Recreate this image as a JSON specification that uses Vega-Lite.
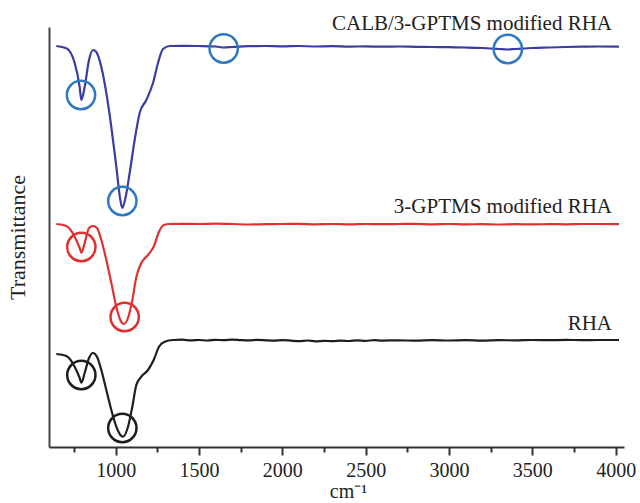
{
  "$schema": "https://vega.github.io/schema/vega-lite/v6.json",
  "width": 575,
  "height": 420,
  "autosize": {"type": "none"},
  "padding": {"left": 49, "top": 27, "right": 16, "bottom": 56},
  "background": "white",
  "config": {
    "view": {"stroke": null},
    "font": "Times New Roman, Liberation Serif, serif"
  },
  "datasets": {
    "curves": [
      {"s": "CALB", "wn": 644, "t": 401}, {"s": "CALB", "wn": 704, "t": 398.7}, {"s": "CALB", "wn": 754, "t": 384}, {"s": "CALB", "wn": 784, "t": 360}, {"s": "CALB", "wn": 794, "t": 347}, {"s": "CALB", "wn": 814, "t": 360}, {"s": "CALB", "wn": 840, "t": 387}, {"s": "CALB", "wn": 864, "t": 397}, {"s": "CALB", "wn": 884, "t": 395}, {"s": "CALB", "wn": 914, "t": 380}, {"s": "CALB", "wn": 944, "t": 354}, {"s": "CALB", "wn": 974, "t": 320}, {"s": "CALB", "wn": 1004, "t": 280}, {"s": "CALB", "wn": 1028, "t": 247}, {"s": "CALB", "wn": 1040, "t": 239}, {"s": "CALB", "wn": 1060, "t": 250}, {"s": "CALB", "wn": 1084, "t": 274}, {"s": "CALB", "wn": 1114, "t": 307}, {"s": "CALB", "wn": 1144, "t": 334}, {"s": "CALB", "wn": 1184, "t": 347}, {"s": "CALB", "wn": 1224, "t": 364}, {"s": "CALB", "wn": 1254, "t": 384}, {"s": "CALB", "wn": 1284, "t": 398}, {"s": "CALB", "wn": 1324, "t": 401},
      {"s": "CALB", "wn": 1400, "t": 401.2}, {"s": "CALB", "wn": 1500, "t": 401}, {"s": "CALB", "wn": 1600, "t": 400.5}, {"s": "CALB", "wn": 1650, "t": 399.5}, {"s": "CALB", "wn": 1700, "t": 400}, {"s": "CALB", "wn": 1800, "t": 400.8}, {"s": "CALB", "wn": 1900, "t": 401}, {"s": "CALB", "wn": 2000, "t": 400.6}, {"s": "CALB", "wn": 2100, "t": 401}, {"s": "CALB", "wn": 2200, "t": 400.5}, {"s": "CALB", "wn": 2300, "t": 400.8}, {"s": "CALB", "wn": 2400, "t": 400.4}, {"s": "CALB", "wn": 2500, "t": 400.6}, {"s": "CALB", "wn": 2600, "t": 400.3}, {"s": "CALB", "wn": 2700, "t": 400.5}, {"s": "CALB", "wn": 2800, "t": 400.2}, {"s": "CALB", "wn": 2900, "t": 400}, {"s": "CALB", "wn": 3000, "t": 399.8}, {"s": "CALB", "wn": 3100, "t": 399.5}, {"s": "CALB", "wn": 3200, "t": 399}, {"s": "CALB", "wn": 3300, "t": 398}, {"s": "CALB", "wn": 3350, "t": 397.5}, {"s": "CALB", "wn": 3400, "t": 398}, {"s": "CALB", "wn": 3500, "t": 399}, {"s": "CALB", "wn": 3600, "t": 399.5}, {"s": "CALB", "wn": 3700, "t": 400}, {"s": "CALB", "wn": 3800, "t": 400.3}, {"s": "CALB", "wn": 3900, "t": 400.5}, {"s": "CALB", "wn": 4020, "t": 400.3},

      {"s": "GPTMS", "wn": 644, "t": 223}, {"s": "GPTMS", "wn": 704, "t": 221}, {"s": "GPTMS", "wn": 754, "t": 210.3}, {"s": "GPTMS", "wn": 784, "t": 199}, {"s": "GPTMS", "wn": 794, "t": 194.3}, {"s": "GPTMS", "wn": 814, "t": 204}, {"s": "GPTMS", "wn": 840, "t": 219}, {"s": "GPTMS", "wn": 864, "t": 221}, {"s": "GPTMS", "wn": 888, "t": 219}, {"s": "GPTMS", "wn": 914, "t": 207}, {"s": "GPTMS", "wn": 944, "t": 187}, {"s": "GPTMS", "wn": 974, "t": 164}, {"s": "GPTMS", "wn": 1004, "t": 140}, {"s": "GPTMS", "wn": 1028, "t": 127}, {"s": "GPTMS", "wn": 1048, "t": 123}, {"s": "GPTMS", "wn": 1074, "t": 129}, {"s": "GPTMS", "wn": 1100, "t": 147}, {"s": "GPTMS", "wn": 1124, "t": 170}, {"s": "GPTMS", "wn": 1154, "t": 184}, {"s": "GPTMS", "wn": 1194, "t": 192}, {"s": "GPTMS", "wn": 1228, "t": 200.3}, {"s": "GPTMS", "wn": 1260, "t": 215.3}, {"s": "GPTMS", "wn": 1288, "t": 222}, {"s": "GPTMS", "wn": 1324, "t": 223},
      {"s": "GPTMS", "wn": 1400, "t": 223.2}, {"s": "GPTMS", "wn": 1500, "t": 223}, {"s": "GPTMS", "wn": 1600, "t": 223.3}, {"s": "GPTMS", "wn": 1700, "t": 223}, {"s": "GPTMS", "wn": 1800, "t": 222.5}, {"s": "GPTMS", "wn": 1900, "t": 222.8}, {"s": "GPTMS", "wn": 2000, "t": 223}, {"s": "GPTMS", "wn": 2100, "t": 223.2}, {"s": "GPTMS", "wn": 2200, "t": 222.7}, {"s": "GPTMS", "wn": 2300, "t": 223}, {"s": "GPTMS", "wn": 2400, "t": 222.6}, {"s": "GPTMS", "wn": 2500, "t": 223}, {"s": "GPTMS", "wn": 2600, "t": 222.8}, {"s": "GPTMS", "wn": 2700, "t": 223}, {"s": "GPTMS", "wn": 2800, "t": 223.2}, {"s": "GPTMS", "wn": 2900, "t": 222.7}, {"s": "GPTMS", "wn": 3000, "t": 223}, {"s": "GPTMS", "wn": 3100, "t": 222.6}, {"s": "GPTMS", "wn": 3200, "t": 222.9}, {"s": "GPTMS", "wn": 3300, "t": 222.5}, {"s": "GPTMS", "wn": 3400, "t": 222.8}, {"s": "GPTMS", "wn": 3500, "t": 222.6}, {"s": "GPTMS", "wn": 3600, "t": 222.9}, {"s": "GPTMS", "wn": 3700, "t": 222.7}, {"s": "GPTMS", "wn": 3800, "t": 223}, {"s": "GPTMS", "wn": 3900, "t": 223}, {"s": "GPTMS", "wn": 4020, "t": 222.8},

      {"s": "RHA", "wn": 644, "t": 93}, {"s": "RHA", "wn": 704, "t": 91}, {"s": "RHA", "wn": 754, "t": 80.3}, {"s": "RHA", "wn": 784, "t": 69}, {"s": "RHA", "wn": 794, "t": 64.3}, {"s": "RHA", "wn": 814, "t": 74}, {"s": "RHA", "wn": 840, "t": 89}, {"s": "RHA", "wn": 864, "t": 94}, {"s": "RHA", "wn": 888, "t": 90.3}, {"s": "RHA", "wn": 914, "t": 77}, {"s": "RHA", "wn": 944, "t": 57}, {"s": "RHA", "wn": 974, "t": 37}, {"s": "RHA", "wn": 1004, "t": 20.3}, {"s": "RHA", "wn": 1028, "t": 12}, {"s": "RHA", "wn": 1044, "t": 10.3}, {"s": "RHA", "wn": 1074, "t": 20.3}, {"s": "RHA", "wn": 1100, "t": 40.3}, {"s": "RHA", "wn": 1124, "t": 62}, {"s": "RHA", "wn": 1154, "t": 70.3}, {"s": "RHA", "wn": 1194, "t": 77}, {"s": "RHA", "wn": 1228, "t": 87}, {"s": "RHA", "wn": 1260, "t": 100.3}, {"s": "RHA", "wn": 1294, "t": 105.3}, {"s": "RHA", "wn": 1344, "t": 107},
      {"s": "RHA", "wn": 1400, "t": 107.3}, {"s": "RHA", "wn": 1450, "t": 106.6}, {"s": "RHA", "wn": 1500, "t": 107}, {"s": "RHA", "wn": 1550, "t": 106.5}, {"s": "RHA", "wn": 1600, "t": 107.2}, {"s": "RHA", "wn": 1650, "t": 106.8}, {"s": "RHA", "wn": 1700, "t": 107.4}, {"s": "RHA", "wn": 1750, "t": 106.9}, {"s": "RHA", "wn": 1800, "t": 106.6}, {"s": "RHA", "wn": 1850, "t": 107.1}, {"s": "RHA", "wn": 1900, "t": 106.7}, {"s": "RHA", "wn": 1950, "t": 106.3}, {"s": "RHA", "wn": 2000, "t": 106.8}, {"s": "RHA", "wn": 2050, "t": 106.4}, {"s": "RHA", "wn": 2100, "t": 105.9}, {"s": "RHA", "wn": 2150, "t": 106.5}, {"s": "RHA", "wn": 2200, "t": 105.6}, {"s": "RHA", "wn": 2250, "t": 106.2}, {"s": "RHA", "wn": 2300, "t": 105.8}, {"s": "RHA", "wn": 2350, "t": 106.4}, {"s": "RHA", "wn": 2400, "t": 106}, {"s": "RHA", "wn": 2450, "t": 106.6}, {"s": "RHA", "wn": 2500, "t": 106.2}, {"s": "RHA", "wn": 2550, "t": 106.8}, {"s": "RHA", "wn": 2600, "t": 106.4}, {"s": "RHA", "wn": 2700, "t": 106.7}, {"s": "RHA", "wn": 2800, "t": 106.3}, {"s": "RHA", "wn": 2900, "t": 106.9}, {"s": "RHA", "wn": 3000, "t": 106.5}, {"s": "RHA", "wn": 3100, "t": 106.8}, {"s": "RHA", "wn": 3200, "t": 106.4}, {"s": "RHA", "wn": 3300, "t": 106.9}, {"s": "RHA", "wn": 3400, "t": 106.6}, {"s": "RHA", "wn": 3500, "t": 107}, {"s": "RHA", "wn": 3600, "t": 106.8}, {"s": "RHA", "wn": 3700, "t": 107.1}, {"s": "RHA", "wn": 3800, "t": 106.9}, {"s": "RHA", "wn": 3900, "t": 107}, {"s": "RHA", "wn": 4020, "t": 107}
    ],
    "rings": [
      {"s": "CALB", "wn": 792, "t": 352},
      {"s": "CALB", "wn": 1040, "t": 246},
      {"s": "CALB", "wn": 1648, "t": 398.5},
      {"s": "CALB", "wn": 3353, "t": 398},
      {"s": "GPTMS", "wn": 794, "t": 200},
      {"s": "GPTMS", "wn": 1054, "t": 130},
      {"s": "RHA", "wn": 794, "t": 72},
      {"s": "RHA", "wn": 1040, "t": 19}
    ],
    "labels": [
      {"s": "CALB", "label": "CALB/3-GPTMS modified RHA", "wn": 3978, "t": 417},
      {"s": "GPTMS", "label": "3-GPTMS modified RHA", "wn": 3978, "t": 234},
      {"s": "RHA", "label": "RHA", "wn": 3978, "t": 117}
    ]
  },
  "layer": [
    {
      "data": {"name": "curves"},
      "mark": {"type": "line", "strokeWidth": 2.2, "interpolate": "monotone"},
      "encoding": {
        "x": {
          "field": "wn", "type": "quantitative",
          "scale": {"domain": [600, 4050], "nice": false, "zero": false},
          "axis": {
            "title": "cm⁻¹",
            "titleX": 299,
            "values": [750, 1000, 1250, 1500, 1750, 2000, 2250, 2500, 2750, 3000, 3250, 3500, 3750, 4000],
            "labelExpr": "datum.value % 500 === 0 ? datum.value : ''",
            "labelFont": "Times New Roman, Liberation Serif, serif",
            "labelFontSize": 20,
            "labelColor": "#222",
            "labelPadding": 5,
            "labelFlush": false,
            "labelOverlap": false,
            "tickSize": {"condition": {"test": "datum.value % 500 === 0", "value": 8}, "value": 5},
            "tickColor": "#333",
            "tickWidth": 2,
            "domainColor": "#333",
            "domainWidth": 2,
            "grid": false,
            "titleFont": "Times New Roman, Liberation Serif, serif",
            "titleFontSize": 20,
            "titleFontWeight": "normal",
            "titleColor": "#222",
            "titlePadding": 1
          }
        },
        "y": {
          "field": "t", "type": "quantitative",
          "scale": {"domain": [0, 420], "nice": false, "zero": false},
          "axis": {
            "title": "Transmittance",
            "ticks": false,
            "labels": false,
            "grid": false,
            "domainColor": "#444",
            "domainWidth": 2,
            "titleFont": "Times New Roman, Liberation Serif, serif",
            "titleFontSize": 22,
            "titleFontWeight": "normal",
            "titleColor": "#222",
            "titlePadding": 20
          }
        },
        "color": {
          "field": "s", "type": "nominal",
          "scale": {"domain": ["CALB", "GPTMS", "RHA"], "range": ["#3a3ca3", "#e0302f", "#1e1e1e"]},
          "legend": null
        }
      }
    },
    {
      "data": {"name": "rings"},
      "mark": {"type": "point", "shape": "circle", "filled": false, "size": 800, "strokeWidth": 2.5, "opacity": 1},
      "encoding": {
        "x": {"field": "wn", "type": "quantitative"},
        "y": {"field": "t", "type": "quantitative"},
        "stroke": {
          "field": "s", "type": "nominal",
          "scale": {"domain": ["CALB", "GPTMS", "RHA"], "range": ["#2f78c4", "#e0302f", "#1e1e1e"]},
          "legend": null
        }
      }
    },
    {
      "data": {"name": "labels"},
      "mark": {"type": "text", "align": "right", "baseline": "alphabetic", "font": "Times New Roman, Liberation Serif, serif", "fontSize": 21, "color": "#222"},
      "encoding": {
        "x": {"field": "wn", "type": "quantitative"},
        "y": {"field": "t", "type": "quantitative"},
        "text": {"field": "label"}
      }
    }
  ]
}
